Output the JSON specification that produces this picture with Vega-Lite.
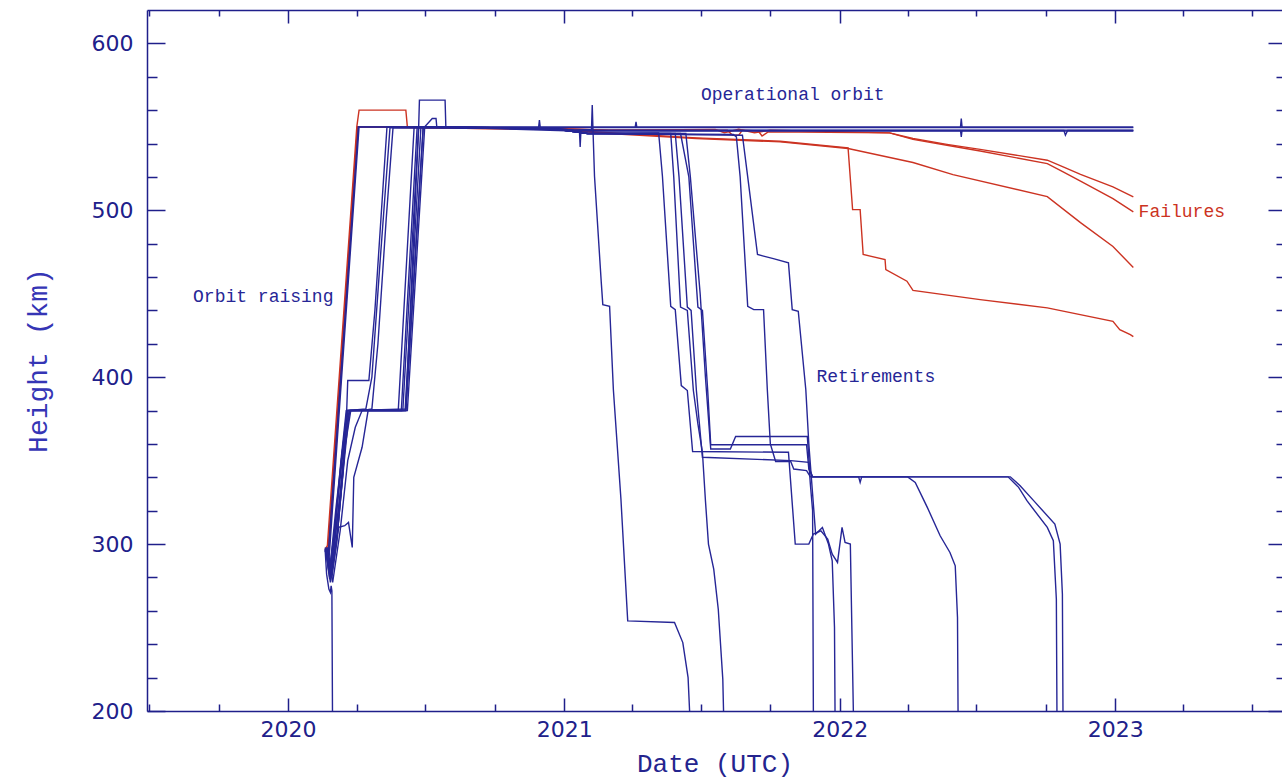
{
  "$schema": "https://vega.github.io/schema/vega-lite/v6.json",
  "width": 1135,
  "height": 701,
  "autosize": {"type": "none"},
  "padding": {"left": 147, "top": 10, "right": 0, "bottom": 69},
  "background": "white",
  "config": {
    "view": {"stroke": null},
    "axis": {"domainColor": "#1f1f8a", "tickColor": "#1f1f8a", "domainWidth": 1.5, "tickWidth": 1.5, "labelColor": "#20208a", "grid": false, "labelFlush": false, "labelBound": false, "labelOverlap": false}
  },
  "datasets": {
    "orbits": [
      {"sat":"F1","status":"failed","date":"2020-02-19","km":297},
      {"sat":"F1","status":"failed","date":"2020-02-22","km":299},
      {"sat":"F1","status":"failed","date":"2020-04-01","km":550},
      {"sat":"F1","status":"failed","date":"2020-04-04","km":560},
      {"sat":"F1","status":"failed","date":"2020-06-05","km":560},
      {"sat":"F1","status":"failed","date":"2020-06-07","km":550},
      {"sat":"F1","status":"failed","date":"2020-09-15","km":549.5},
      {"sat":"F1","status":"failed","date":"2020-12-15","km":549},
      {"sat":"F1","status":"failed","date":"2021-03-01","km":548},
      {"sat":"F1","status":"failed","date":"2021-07-20","km":548.5},
      {"sat":"F1","status":"failed","date":"2021-08-01","km":546.5},
      {"sat":"F1","status":"failed","date":"2021-08-20","km":548.5},
      {"sat":"F1","status":"failed","date":"2021-09-10","km":546.5},
      {"sat":"F1","status":"failed","date":"2021-10-01","km":548},
      {"sat":"F1","status":"failed","date":"2022-03-08","km":546.4},
      {"sat":"F1","status":"failed","date":"2022-04-08","km":543},
      {"sat":"F1","status":"failed","date":"2022-05-23","km":539.5},
      {"sat":"F1","status":"failed","date":"2022-07-06","km":536.5},
      {"sat":"F1","status":"failed","date":"2022-10-03","km":530},
      {"sat":"F1","status":"failed","date":"2022-10-24","km":526},
      {"sat":"F1","status":"failed","date":"2022-11-16","km":521.5},
      {"sat":"F1","status":"failed","date":"2022-12-29","km":514},
      {"sat":"F1","status":"failed","date":"2023-01-25","km":508},

      {"sat":"F2","status":"failed","date":"2020-02-19","km":296},
      {"sat":"F2","status":"failed","date":"2020-02-23","km":298},
      {"sat":"F2","status":"failed","date":"2020-04-02","km":550},
      {"sat":"F2","status":"failed","date":"2020-09-15","km":549.5},
      {"sat":"F2","status":"failed","date":"2020-12-15","km":549},
      {"sat":"F2","status":"failed","date":"2021-03-01","km":548},
      {"sat":"F2","status":"failed","date":"2021-08-05","km":548},
      {"sat":"F2","status":"failed","date":"2021-08-12","km":545},
      {"sat":"F2","status":"failed","date":"2021-08-20","km":545},
      {"sat":"F2","status":"failed","date":"2021-08-25","km":548},
      {"sat":"F2","status":"failed","date":"2021-09-15","km":547.5},
      {"sat":"F2","status":"failed","date":"2021-09-20","km":544.5},
      {"sat":"F2","status":"failed","date":"2021-09-28","km":547},
      {"sat":"F2","status":"failed","date":"2022-03-08","km":546.4},
      {"sat":"F2","status":"failed","date":"2022-04-08","km":542.5},
      {"sat":"F2","status":"failed","date":"2022-05-23","km":539},
      {"sat":"F2","status":"failed","date":"2022-07-06","km":535.5},
      {"sat":"F2","status":"failed","date":"2022-10-03","km":528},
      {"sat":"F2","status":"failed","date":"2022-10-24","km":523},
      {"sat":"F2","status":"failed","date":"2022-11-16","km":517.5},
      {"sat":"F2","status":"failed","date":"2022-12-29","km":507},
      {"sat":"F2","status":"failed","date":"2023-01-25","km":499},

      {"sat":"F3","status":"failed","date":"2020-02-20","km":295},
      {"sat":"F3","status":"failed","date":"2020-02-24","km":297},
      {"sat":"F3","status":"failed","date":"2020-04-02","km":550},
      {"sat":"F3","status":"failed","date":"2020-09-15","km":549},
      {"sat":"F3","status":"failed","date":"2020-12-15","km":548.5},
      {"sat":"F3","status":"failed","date":"2021-03-01","km":546.5},
      {"sat":"F3","status":"failed","date":"2021-06-25","km":543.4},
      {"sat":"F3","status":"failed","date":"2021-10-14","km":541.4},
      {"sat":"F3","status":"failed","date":"2022-01-12","km":537.4},
      {"sat":"F3","status":"failed","date":"2022-01-18","km":500.4},
      {"sat":"F3","status":"failed","date":"2022-01-28","km":500.4},
      {"sat":"F3","status":"failed","date":"2022-02-01","km":473.5},
      {"sat":"F3","status":"failed","date":"2022-03-02","km":470.5},
      {"sat":"F3","status":"failed","date":"2022-03-03","km":464.5},
      {"sat":"F3","status":"failed","date":"2022-03-31","km":457.5},
      {"sat":"F3","status":"failed","date":"2022-04-08","km":452},
      {"sat":"F3","status":"failed","date":"2022-07-06","km":446.5},
      {"sat":"F3","status":"failed","date":"2022-10-03","km":441.5},
      {"sat":"F3","status":"failed","date":"2022-12-29","km":433.5},
      {"sat":"F3","status":"failed","date":"2023-01-07","km":428.5},
      {"sat":"F3","status":"failed","date":"2023-01-21","km":425.5},
      {"sat":"F3","status":"failed","date":"2023-01-25","km":424.3},

      {"sat":"F4","status":"failed","date":"2020-02-20","km":294},
      {"sat":"F4","status":"failed","date":"2020-02-24","km":296},
      {"sat":"F4","status":"failed","date":"2020-04-03","km":550},
      {"sat":"F4","status":"failed","date":"2020-09-15","km":549},
      {"sat":"F4","status":"failed","date":"2020-12-15","km":548.5},
      {"sat":"F4","status":"failed","date":"2021-03-01","km":546},
      {"sat":"F4","status":"failed","date":"2021-06-25","km":543},
      {"sat":"F4","status":"failed","date":"2021-10-14","km":541},
      {"sat":"F4","status":"failed","date":"2022-01-12","km":537},
      {"sat":"F4","status":"failed","date":"2022-04-08","km":528.6},
      {"sat":"F4","status":"failed","date":"2022-05-31","km":521.4},
      {"sat":"F4","status":"failed","date":"2022-10-03","km":508.2},
      {"sat":"F4","status":"failed","date":"2022-11-16","km":492.6},
      {"sat":"F4","status":"failed","date":"2022-12-29","km":478.3},
      {"sat":"F4","status":"failed","date":"2023-01-25","km":465.7},

      {"sat":"B1","status":"ok","date":"2020-02-19","km":298},
      {"sat":"B1","status":"ok","date":"2020-02-23","km":293},
      {"sat":"B1","status":"ok","date":"2020-04-03","km":550},
      {"sat":"B1","status":"ok","date":"2020-11-28","km":550},
      {"sat":"B1","status":"ok","date":"2020-11-29","km":554},
      {"sat":"B1","status":"ok","date":"2020-11-30","km":550},
      {"sat":"B1","status":"ok","date":"2021-04-05","km":550},
      {"sat":"B1","status":"ok","date":"2021-04-06","km":553},
      {"sat":"B1","status":"ok","date":"2021-04-07","km":550},
      {"sat":"B1","status":"ok","date":"2022-06-10","km":550},
      {"sat":"B1","status":"ok","date":"2022-06-11","km":555},
      {"sat":"B1","status":"ok","date":"2022-06-12","km":550},
      {"sat":"B1","status":"ok","date":"2023-01-25","km":550},

      {"sat":"B2","status":"ok","date":"2020-02-19","km":296},
      {"sat":"B2","status":"ok","date":"2020-02-24","km":290},
      {"sat":"B2","status":"ok","date":"2020-04-04","km":550},
      {"sat":"B2","status":"ok","date":"2020-12-15","km":549.5},
      {"sat":"B2","status":"ok","date":"2021-01-15","km":547.8},
      {"sat":"B2","status":"ok","date":"2021-01-21","km":547.8},
      {"sat":"B2","status":"ok","date":"2021-01-22","km":538},
      {"sat":"B2","status":"ok","date":"2021-01-23","km":547.8},
      {"sat":"B2","status":"ok","date":"2022-06-10","km":547.8},
      {"sat":"B2","status":"ok","date":"2022-06-11","km":544},
      {"sat":"B2","status":"ok","date":"2022-06-12","km":547.8},
      {"sat":"B2","status":"ok","date":"2022-10-25","km":547.8},
      {"sat":"B2","status":"ok","date":"2022-10-27","km":545},
      {"sat":"B2","status":"ok","date":"2022-10-30","km":547.8},
      {"sat":"B2","status":"ok","date":"2023-01-25","km":547.8},

      {"sat":"B3","status":"ok","date":"2020-02-19","km":297},
      {"sat":"B3","status":"ok","date":"2020-02-21","km":282},
      {"sat":"B3","status":"ok","date":"2020-02-24","km":273},
      {"sat":"B3","status":"ok","date":"2020-02-26","km":271},
      {"sat":"B3","status":"ok","date":"2020-02-27","km":275},
      {"sat":"B3","status":"ok","date":"2020-02-28","km":272},
      {"sat":"B3","status":"ok","date":"2020-02-29","km":180},

      {"sat":"T1","status":"ok","date":"2020-02-20","km":297},
      {"sat":"T1","status":"ok","date":"2020-02-24","km":283},
      {"sat":"T1","status":"ok","date":"2020-03-02","km":300},
      {"sat":"T1","status":"ok","date":"2020-03-10","km":330},
      {"sat":"T1","status":"ok","date":"2020-03-18","km":372},
      {"sat":"T1","status":"ok","date":"2020-03-20","km":398},
      {"sat":"T1","status":"ok","date":"2020-04-17","km":398},
      {"sat":"T1","status":"ok","date":"2020-04-25","km":440},
      {"sat":"T1","status":"ok","date":"2020-05-03","km":495},
      {"sat":"T1","status":"ok","date":"2020-05-11","km":550},
      {"sat":"T1","status":"ok","date":"2020-12-15","km":549},
      {"sat":"T1","status":"ok","date":"2021-01-15","km":548},
      {"sat":"T1","status":"ok","date":"2021-02-06","km":548.4},
      {"sat":"T1","status":"ok","date":"2021-02-07","km":563},
      {"sat":"T1","status":"ok","date":"2021-02-08","km":548},
      {"sat":"T1","status":"ok","date":"2021-02-10","km":520.4},
      {"sat":"T1","status":"ok","date":"2021-02-19","km":456.5},
      {"sat":"T1","status":"ok","date":"2021-02-21","km":443.5},
      {"sat":"T1","status":"ok","date":"2021-03-02","km":442.5},
      {"sat":"T1","status":"ok","date":"2021-03-07","km":392.5},
      {"sat":"T1","status":"ok","date":"2021-03-17","km":327},
      {"sat":"T1","status":"ok","date":"2021-03-25","km":262},
      {"sat":"T1","status":"ok","date":"2021-03-26","km":254},
      {"sat":"T1","status":"ok","date":"2021-05-27","km":253},
      {"sat":"T1","status":"ok","date":"2021-06-07","km":241},
      {"sat":"T1","status":"ok","date":"2021-06-14","km":220},
      {"sat":"T1","status":"ok","date":"2021-06-16","km":200},
      {"sat":"T1","status":"ok","date":"2021-06-17","km":180},

      {"sat":"M1","status":"ok","date":"2020-02-21","km":298},
      {"sat":"M1","status":"ok","date":"2020-02-26","km":280},
      {"sat":"M1","status":"ok","date":"2020-03-06","km":305},
      {"sat":"M1","status":"ok","date":"2020-03-14","km":345},
      {"sat":"M1","status":"ok","date":"2020-03-19","km":380},
      {"sat":"M1","status":"ok","date":"2020-04-13","km":381},
      {"sat":"M1","status":"ok","date":"2020-04-21","km":400},
      {"sat":"M1","status":"ok","date":"2020-05-02","km":470},
      {"sat":"M1","status":"ok","date":"2020-05-15","km":549.5},
      {"sat":"M1","status":"ok","date":"2020-12-15","km":549},
      {"sat":"M1","status":"ok","date":"2021-02-01","km":546},
      {"sat":"M1","status":"ok","date":"2021-08-13","km":545.5},
      {"sat":"M1","status":"ok","date":"2021-08-17","km":544},
      {"sat":"M1","status":"ok","date":"2021-08-22","km":520},
      {"sat":"M1","status":"ok","date":"2021-09-01","km":442.5},
      {"sat":"M1","status":"ok","date":"2021-09-09","km":440.5},
      {"sat":"M1","status":"ok","date":"2021-09-22","km":440.5},
      {"sat":"M1","status":"ok","date":"2021-09-27","km":392.5},
      {"sat":"M1","status":"ok","date":"2021-10-01","km":360},
      {"sat":"M1","status":"ok","date":"2021-10-08","km":349.5},
      {"sat":"M1","status":"ok","date":"2021-10-28","km":349.5},
      {"sat":"M1","status":"ok","date":"2021-11-01","km":345},
      {"sat":"M1","status":"ok","date":"2021-11-18","km":344},
      {"sat":"M1","status":"ok","date":"2021-11-23","km":340.3},
      {"sat":"M1","status":"ok","date":"2022-01-26","km":340.3},
      {"sat":"M1","status":"ok","date":"2022-01-28","km":337},
      {"sat":"M1","status":"ok","date":"2022-01-30","km":340.3},
      {"sat":"M1","status":"ok","date":"2022-04-01","km":340.3},
      {"sat":"M1","status":"ok","date":"2022-04-11","km":337},
      {"sat":"M1","status":"ok","date":"2022-04-27","km":322},
      {"sat":"M1","status":"ok","date":"2022-05-14","km":305},
      {"sat":"M1","status":"ok","date":"2022-05-27","km":295},
      {"sat":"M1","status":"ok","date":"2022-06-03","km":287},
      {"sat":"M1","status":"ok","date":"2022-06-06","km":256},
      {"sat":"M1","status":"ok","date":"2022-06-07","km":180},

      {"sat":"M2","status":"ok","date":"2020-02-22","km":298},
      {"sat":"M2","status":"ok","date":"2020-02-29","km":277},
      {"sat":"M2","status":"ok","date":"2020-03-10","km":308},
      {"sat":"M2","status":"ok","date":"2020-03-20","km":350},
      {"sat":"M2","status":"ok","date":"2020-03-30","km":370},
      {"sat":"M2","status":"ok","date":"2020-04-08","km":380},
      {"sat":"M2","status":"ok","date":"2020-04-21","km":381},
      {"sat":"M2","status":"ok","date":"2020-04-29","km":420},
      {"sat":"M2","status":"ok","date":"2020-05-10","km":495},
      {"sat":"M2","status":"ok","date":"2020-05-19","km":549.5},
      {"sat":"M2","status":"ok","date":"2020-12-15","km":549},
      {"sat":"M2","status":"ok","date":"2021-02-01","km":546},
      {"sat":"M2","status":"ok","date":"2021-08-25","km":545},
      {"sat":"M2","status":"ok","date":"2021-09-01","km":520},
      {"sat":"M2","status":"ok","date":"2021-09-14","km":473.5},
      {"sat":"M2","status":"ok","date":"2021-09-22","km":472.5},
      {"sat":"M2","status":"ok","date":"2021-10-05","km":471},
      {"sat":"M2","status":"ok","date":"2021-10-25","km":468.5},
      {"sat":"M2","status":"ok","date":"2021-10-30","km":440.5},
      {"sat":"M2","status":"ok","date":"2021-11-07","km":439.5},
      {"sat":"M2","status":"ok","date":"2021-11-17","km":392.5},
      {"sat":"M2","status":"ok","date":"2021-11-21","km":360},
      {"sat":"M2","status":"ok","date":"2021-11-26","km":330},
      {"sat":"M2","status":"ok","date":"2021-11-30","km":306},
      {"sat":"M2","status":"ok","date":"2021-12-09","km":310},
      {"sat":"M2","status":"ok","date":"2021-12-17","km":300},
      {"sat":"M2","status":"ok","date":"2021-12-22","km":290},
      {"sat":"M2","status":"ok","date":"2021-12-25","km":250},
      {"sat":"M2","status":"ok","date":"2021-12-26","km":180},

      {"sat":"L1","status":"ok","date":"2020-02-19","km":297},
      {"sat":"L1","status":"ok","date":"2020-02-25","km":285},
      {"sat":"L1","status":"ok","date":"2020-03-03","km":310},
      {"sat":"L1","status":"ok","date":"2020-03-11","km":350},
      {"sat":"L1","status":"ok","date":"2020-03-18","km":380},
      {"sat":"L1","status":"ok","date":"2020-05-26","km":380.5},
      {"sat":"L1","status":"ok","date":"2020-06-16","km":550},
      {"sat":"L1","status":"ok","date":"2020-12-15","km":549},
      {"sat":"L1","status":"ok","date":"2021-02-01","km":546},
      {"sat":"L1","status":"ok","date":"2021-05-06","km":546.4},
      {"sat":"L1","status":"ok","date":"2021-05-11","km":520.4},
      {"sat":"L1","status":"ok","date":"2021-05-22","km":442.5},
      {"sat":"L1","status":"ok","date":"2021-05-28","km":440.5},
      {"sat":"L1","status":"ok","date":"2021-06-05","km":395},
      {"sat":"L1","status":"ok","date":"2021-06-13","km":392},
      {"sat":"L1","status":"ok","date":"2021-06-20","km":355.5},
      {"sat":"L1","status":"ok","date":"2021-10-25","km":355},
      {"sat":"L1","status":"ok","date":"2021-11-03","km":300},
      {"sat":"L1","status":"ok","date":"2021-11-21","km":300},
      {"sat":"L1","status":"ok","date":"2021-11-27","km":306},
      {"sat":"L1","status":"ok","date":"2021-12-07","km":308},
      {"sat":"L1","status":"ok","date":"2021-12-16","km":303},
      {"sat":"L1","status":"ok","date":"2021-12-22","km":294},
      {"sat":"L1","status":"ok","date":"2021-12-29","km":289},
      {"sat":"L1","status":"ok","date":"2022-01-04","km":310},
      {"sat":"L1","status":"ok","date":"2022-01-08","km":301},
      {"sat":"L1","status":"ok","date":"2022-01-15","km":300},
      {"sat":"L1","status":"ok","date":"2022-01-19","km":200},
      {"sat":"L1","status":"ok","date":"2022-01-20","km":180},

      {"sat":"L2","status":"ok","date":"2020-02-20","km":296},
      {"sat":"L2","status":"ok","date":"2020-02-25","km":279},
      {"sat":"L2","status":"ok","date":"2020-03-04","km":315},
      {"sat":"L2","status":"ok","date":"2020-03-12","km":352},
      {"sat":"L2","status":"ok","date":"2020-03-19","km":380},
      {"sat":"L2","status":"ok","date":"2020-05-30","km":380},
      {"sat":"L2","status":"ok","date":"2020-06-20","km":550},
      {"sat":"L2","status":"ok","date":"2020-12-15","km":549},
      {"sat":"L2","status":"ok","date":"2021-02-01","km":546},
      {"sat":"L2","status":"ok","date":"2021-05-22","km":546},
      {"sat":"L2","status":"ok","date":"2021-05-26","km":520},
      {"sat":"L2","status":"ok","date":"2021-06-04","km":442},
      {"sat":"L2","status":"ok","date":"2021-06-13","km":440},
      {"sat":"L2","status":"ok","date":"2021-06-21","km":392},
      {"sat":"L2","status":"ok","date":"2021-06-27","km":372},
      {"sat":"L2","status":"ok","date":"2021-07-03","km":355},
      {"sat":"L2","status":"ok","date":"2021-07-07","km":326},
      {"sat":"L2","status":"ok","date":"2021-07-11","km":300},
      {"sat":"L2","status":"ok","date":"2021-07-18","km":285},
      {"sat":"L2","status":"ok","date":"2021-07-24","km":261},
      {"sat":"L2","status":"ok","date":"2021-07-30","km":219},
      {"sat":"L2","status":"ok","date":"2021-08-01","km":180},

      {"sat":"L3","status":"ok","date":"2020-02-21","km":296},
      {"sat":"L3","status":"ok","date":"2020-02-28","km":286},
      {"sat":"L3","status":"ok","date":"2020-03-08","km":322},
      {"sat":"L3","status":"ok","date":"2020-03-17","km":360},
      {"sat":"L3","status":"ok","date":"2020-03-24","km":380},
      {"sat":"L3","status":"ok","date":"2020-06-05","km":380},
      {"sat":"L3","status":"ok","date":"2020-06-28","km":550},
      {"sat":"L3","status":"ok","date":"2020-12-15","km":549},
      {"sat":"L3","status":"ok","date":"2021-02-01","km":546},
      {"sat":"L3","status":"ok","date":"2021-05-28","km":546},
      {"sat":"L3","status":"ok","date":"2021-06-02","km":520},
      {"sat":"L3","status":"ok","date":"2021-06-13","km":442},
      {"sat":"L3","status":"ok","date":"2021-06-18","km":440},
      {"sat":"L3","status":"ok","date":"2021-06-25","km":392},
      {"sat":"L3","status":"ok","date":"2021-07-03","km":352},
      {"sat":"L3","status":"ok","date":"2021-10-28","km":350},
      {"sat":"L3","status":"ok","date":"2021-11-21","km":349},
      {"sat":"L3","status":"ok","date":"2021-11-23","km":336},
      {"sat":"L3","status":"ok","date":"2021-11-26","km":320},
      {"sat":"L3","status":"ok","date":"2021-11-27","km":200},
      {"sat":"L3","status":"ok","date":"2021-11-28","km":180},

      {"sat":"L4","status":"ok","date":"2020-02-20","km":297},
      {"sat":"L4","status":"ok","date":"2020-02-26","km":277},
      {"sat":"L4","status":"ok","date":"2020-03-05","km":300},
      {"sat":"L4","status":"ok","date":"2020-03-13","km":340},
      {"sat":"L4","status":"ok","date":"2020-03-20","km":380},
      {"sat":"L4","status":"ok","date":"2020-06-01","km":380},
      {"sat":"L4","status":"ok","date":"2020-06-22","km":550},
      {"sat":"L4","status":"ok","date":"2020-12-15","km":549},
      {"sat":"L4","status":"ok","date":"2021-02-01","km":546},
      {"sat":"L4","status":"ok","date":"2021-06-04","km":546},
      {"sat":"L4","status":"ok","date":"2021-06-15","km":520},
      {"sat":"L4","status":"ok","date":"2021-06-27","km":442},
      {"sat":"L4","status":"ok","date":"2021-07-03","km":440},
      {"sat":"L4","status":"ok","date":"2021-07-10","km":392},
      {"sat":"L4","status":"ok","date":"2021-07-14","km":359.5},
      {"sat":"L4","status":"ok","date":"2021-11-18","km":359.5},
      {"sat":"L4","status":"ok","date":"2021-11-21","km":345},
      {"sat":"L4","status":"ok","date":"2021-11-26","km":340.3},
      {"sat":"L4","status":"ok","date":"2022-08-12","km":340.3},
      {"sat":"L4","status":"ok","date":"2022-08-26","km":334},
      {"sat":"L4","status":"ok","date":"2022-09-06","km":326},
      {"sat":"L4","status":"ok","date":"2022-10-03","km":310},
      {"sat":"L4","status":"ok","date":"2022-10-11","km":302},
      {"sat":"L4","status":"ok","date":"2022-10-15","km":267},
      {"sat":"L4","status":"ok","date":"2022-10-16","km":180},

      {"sat":"L5","status":"ok","date":"2020-02-21","km":297},
      {"sat":"L5","status":"ok","date":"2020-02-27","km":282},
      {"sat":"L5","status":"ok","date":"2020-03-07","km":310},
      {"sat":"L5","status":"ok","date":"2020-03-15","km":348},
      {"sat":"L5","status":"ok","date":"2020-03-22","km":380},
      {"sat":"L5","status":"ok","date":"2020-06-04","km":380},
      {"sat":"L5","status":"ok","date":"2020-06-25","km":550},
      {"sat":"L5","status":"ok","date":"2020-12-15","km":549},
      {"sat":"L5","status":"ok","date":"2021-02-01","km":546},
      {"sat":"L5","status":"ok","date":"2021-06-11","km":546},
      {"sat":"L5","status":"ok","date":"2021-06-17","km":520},
      {"sat":"L5","status":"ok","date":"2021-06-30","km":450},
      {"sat":"L5","status":"ok","date":"2021-07-07","km":400},
      {"sat":"L5","status":"ok","date":"2021-07-14","km":357},
      {"sat":"L5","status":"ok","date":"2021-08-09","km":357},
      {"sat":"L5","status":"ok","date":"2021-08-16","km":364.5},
      {"sat":"L5","status":"ok","date":"2021-11-19","km":364.5},
      {"sat":"L5","status":"ok","date":"2021-11-22","km":345},
      {"sat":"L5","status":"ok","date":"2021-11-26","km":340.3},
      {"sat":"L5","status":"ok","date":"2022-08-15","km":340.3},
      {"sat":"L5","status":"ok","date":"2022-08-28","km":335},
      {"sat":"L5","status":"ok","date":"2022-09-17","km":325},
      {"sat":"L5","status":"ok","date":"2022-10-13","km":312},
      {"sat":"L5","status":"ok","date":"2022-10-20","km":300},
      {"sat":"L5","status":"ok","date":"2022-10-23","km":270},
      {"sat":"L5","status":"ok","date":"2022-10-24","km":180},

      {"sat":"B5","status":"ok","date":"2020-02-21","km":296},
      {"sat":"B5","status":"ok","date":"2020-02-27","km":284},
      {"sat":"B5","status":"ok","date":"2020-03-05","km":318},
      {"sat":"B5","status":"ok","date":"2020-03-16","km":365},
      {"sat":"B5","status":"ok","date":"2020-03-23","km":380},
      {"sat":"B5","status":"ok","date":"2020-06-05","km":380},
      {"sat":"B5","status":"ok","date":"2020-06-28","km":549.5},
      {"sat":"B5","status":"ok","date":"2021-01-15","km":549.5},
      {"sat":"B5","status":"ok","date":"2023-01-25","km":549.5},

      {"sat":"B6","status":"ok","date":"2020-02-20","km":296},
      {"sat":"B6","status":"ok","date":"2020-02-26","km":288},
      {"sat":"B6","status":"ok","date":"2020-03-04","km":320},
      {"sat":"B6","status":"ok","date":"2020-03-14","km":360},
      {"sat":"B6","status":"ok","date":"2020-03-22","km":380},
      {"sat":"B6","status":"ok","date":"2020-06-05","km":381},
      {"sat":"B6","status":"ok","date":"2020-06-22","km":550},
      {"sat":"B6","status":"ok","date":"2020-06-23","km":566},
      {"sat":"B6","status":"ok","date":"2020-07-27","km":566},
      {"sat":"B6","status":"ok","date":"2020-07-28","km":550},
      {"sat":"B6","status":"ok","date":"2021-01-15","km":548},
      {"sat":"B6","status":"ok","date":"2023-01-25","km":548},

      {"sat":"B7","status":"ok","date":"2020-02-21","km":297},
      {"sat":"B7","status":"ok","date":"2020-02-28","km":280},
      {"sat":"B7","status":"ok","date":"2020-03-08","km":310},
      {"sat":"B7","status":"ok","date":"2020-03-16","km":311},
      {"sat":"B7","status":"ok","date":"2020-03-21","km":313},
      {"sat":"B7","status":"ok","date":"2020-03-26","km":298},
      {"sat":"B7","status":"ok","date":"2020-03-28","km":340},
      {"sat":"B7","status":"ok","date":"2020-04-08","km":358},
      {"sat":"B7","status":"ok","date":"2020-04-16","km":380},
      {"sat":"B7","status":"ok","date":"2020-06-07","km":380},
      {"sat":"B7","status":"ok","date":"2020-06-30","km":550},
      {"sat":"B7","status":"ok","date":"2020-07-10","km":555},
      {"sat":"B7","status":"ok","date":"2020-07-15","km":555},
      {"sat":"B7","status":"ok","date":"2020-07-16","km":550},
      {"sat":"B7","status":"ok","date":"2021-01-15","km":547.5},
      {"sat":"B7","status":"ok","date":"2023-01-25","km":547.5}
    ],
    "notes": [
      {"label":"Orbit raising","status":"ok","date":"2019-08-28","km":445},
      {"label":"Operational orbit","status":"ok","date":"2021-07-01","km":566},
      {"label":"Retirements","status":"ok","date":"2021-12-01","km":397},
      {"label":"Failures","status":"failed","date":"2023-02-01","km":496}
    ]
  },
  "layer": [
    {
      "data": {"name": "orbits"},
      "transform": [{"filter": "datum.status === 'failed'"}],
      "mark": {"type": "line", "clip": true, "strokeWidth": 1.4},
      "encoding": {
        "x": {
          "field": "date", "type": "temporal",
          "scale": {"type": "utc", "domain": [{"year": 2019, "month": 6, "date": 28, "utc": true}, {"year": 2023, "month": 8, "date": 10, "utc": true}]},
          "axis": {
            "orient": "bottom",
            "values": [
              {"year": 2019, "month": 7, "date": 1, "utc": true}, {"year": 2019, "month": 10, "date": 1, "utc": true},
              {"year": 2020, "month": 1, "date": 1, "utc": true}, {"year": 2020, "month": 4, "date": 1, "utc": true},
              {"year": 2020, "month": 7, "date": 1, "utc": true}, {"year": 2020, "month": 10, "date": 1, "utc": true},
              {"year": 2021, "month": 1, "date": 1, "utc": true}, {"year": 2021, "month": 4, "date": 1, "utc": true},
              {"year": 2021, "month": 7, "date": 1, "utc": true}, {"year": 2021, "month": 10, "date": 1, "utc": true},
              {"year": 2022, "month": 1, "date": 1, "utc": true}, {"year": 2022, "month": 4, "date": 1, "utc": true},
              {"year": 2022, "month": 7, "date": 1, "utc": true}, {"year": 2022, "month": 10, "date": 1, "utc": true},
              {"year": 2023, "month": 1, "date": 1, "utc": true}, {"year": 2023, "month": 4, "date": 1, "utc": true},
              {"year": 2023, "month": 7, "date": 1, "utc": true}
            ],
            "labelExpr": "utcmonth(datum.value) === 0 ? utcFormat(datum.value, '%Y') : ''",
            "tickSize": {"condition": {"test": "utcmonth(datum.value) === 0", "value": -13}, "value": -7},
            "labelPadding": 21,
            "labelFont": "DejaVu Sans", "labelFontSize": 22,
            "title": "Date (UTC)", "titleFont": "Liberation Mono", "titleFontSize": 26, "titleFontWeight": "normal",
            "titleColor": "#24248e", "titleY": 60, "titleBaseline": "alphabetic"
          }
        },
        "y": {
          "field": "km", "type": "quantitative",
          "scale": {"domain": [200, 620], "nice": false, "zero": false},
          "axis": {
            "orient": "left",
            "values": [200,220,240,260,280,300,320,340,360,380,400,420,440,460,480,500,520,540,560,580,600],
            "labelExpr": "datum.value % 100 === 0 ? datum.label : ''",
            "tickSize": {"condition": {"test": "datum.value % 100 === 0", "value": -18}, "value": -10},
            "labelPadding": 32,
            "labelFont": "DejaVu Sans", "labelFontSize": 22,
            "title": "Height (km)", "titleFont": "Liberation Mono", "titleFontSize": 28, "titleFontWeight": "normal",
            "titleColor": "#3535b5", "titleX": -101, "titleY": 350, "titleAngle": -90, "titleBaseline": "alphabetic", "titleAlign": "center"
          }
        },
        "color": {"field": "status", "type": "nominal", "scale": {"domain": ["ok", "failed"], "range": ["#262696", "#cc3322"]}, "legend": null},
        "detail": {"field": "sat"}
      }
    },
    {
      "data": {"name": "orbits"},
      "transform": [{"filter": "datum.status === 'ok'"}],
      "mark": {"type": "line", "clip": true, "strokeWidth": 1.4},
      "encoding": {
        "x": {"field": "date", "type": "temporal", "scale": {"type": "utc", "domain": [{"year": 2019, "month": 6, "date": 28, "utc": true}, {"year": 2023, "month": 8, "date": 10, "utc": true}]}, "axis": null},
        "y": {"field": "km", "type": "quantitative", "scale": {"domain": [200, 620], "nice": false, "zero": false}, "axis": null},
        "color": {"field": "status", "type": "nominal", "scale": {"domain": ["ok", "failed"], "range": ["#262696", "#cc3322"]}, "legend": null},
        "detail": {"field": "sat"}
      }
    },
    {
      "data": {"name": "notes"},
      "mark": {"type": "text", "align": "left", "baseline": "alphabetic", "font": "Liberation Mono", "fontSize": 18},
      "encoding": {
        "x": {
          "field": "date", "type": "temporal",
          "scale": {"type": "utc", "domain": [{"year": 2019, "month": 6, "date": 28, "utc": true}, {"year": 2023, "month": 8, "date": 10, "utc": true}]},
          "axis": {
            "orient": "top",
            "values": [
              {"year": 2019, "month": 7, "date": 1, "utc": true}, {"year": 2019, "month": 10, "date": 1, "utc": true},
              {"year": 2020, "month": 1, "date": 1, "utc": true}, {"year": 2020, "month": 4, "date": 1, "utc": true},
              {"year": 2020, "month": 7, "date": 1, "utc": true}, {"year": 2020, "month": 10, "date": 1, "utc": true},
              {"year": 2021, "month": 1, "date": 1, "utc": true}, {"year": 2021, "month": 4, "date": 1, "utc": true},
              {"year": 2021, "month": 7, "date": 1, "utc": true}, {"year": 2021, "month": 10, "date": 1, "utc": true},
              {"year": 2022, "month": 1, "date": 1, "utc": true}, {"year": 2022, "month": 4, "date": 1, "utc": true},
              {"year": 2022, "month": 7, "date": 1, "utc": true}, {"year": 2022, "month": 10, "date": 1, "utc": true},
              {"year": 2023, "month": 1, "date": 1, "utc": true}, {"year": 2023, "month": 4, "date": 1, "utc": true},
              {"year": 2023, "month": 7, "date": 1, "utc": true}
            ],
            "labels": false, "title": null,
            "tickSize": {"condition": {"test": "utcmonth(datum.value) === 0", "value": -13}, "value": -6}
          }
        },
        "y": {
          "field": "km", "type": "quantitative",
          "scale": {"domain": [200, 620], "nice": false, "zero": false},
          "axis": {
            "orient": "right", "domain": false,
            "values": [200,220,240,260,280,300,320,340,360,380,400,420,440,460,480,500,520,540,560,580,600],
            "labels": false, "title": null,
            "tickSize": {"condition": {"test": "datum.value % 100 === 0", "value": -14}, "value": -6}
          }
        },
        "text": {"field": "label"},
        "color": {"field": "status", "type": "nominal", "scale": {"domain": ["ok", "failed"], "range": ["#262696", "#cc3322"]}, "legend": null}
      }
    }
  ],
  "resolve": {"axis": {"x": "independent", "y": "independent"}}
}
